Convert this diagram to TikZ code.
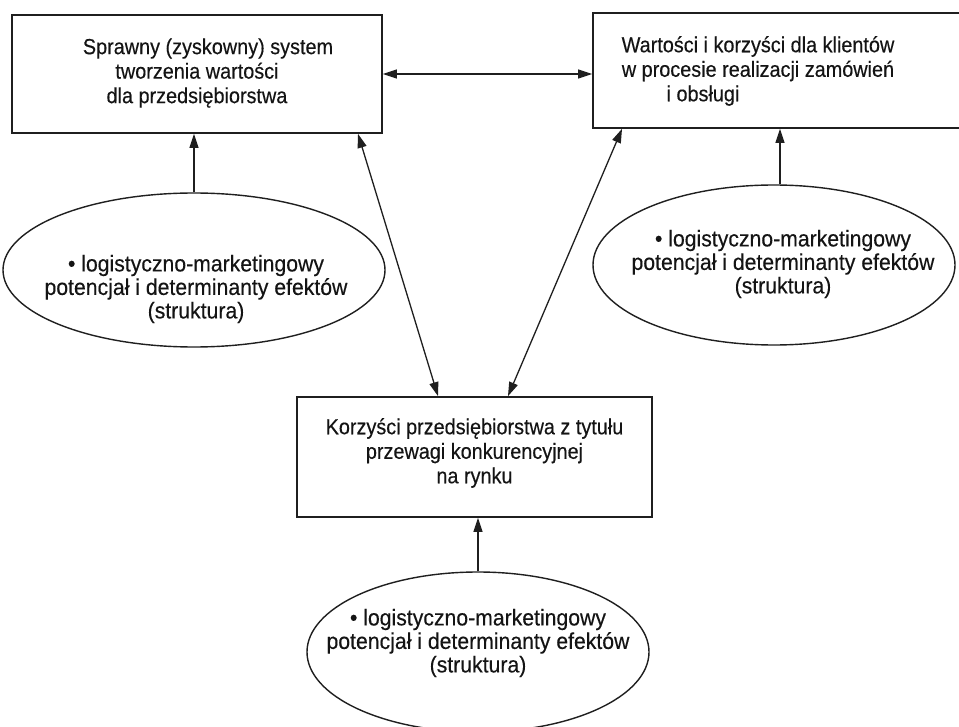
\documentclass[tikz,border=0pt]{standalone}
\usepackage{fontspec}
\setmainfont{Liberation Sans}
\newfontfamily\boxfont[FakeStretch=0.91,FakeBold=0.3]{Liberation Sans}
\newfontfamily\ovalfont[FakeStretch=0.93,FakeBold=0.3]{Liberation Sans}
\usetikzlibrary{arrows.meta,shapes.geometric}
\begin{document}
\begin{tikzpicture}[x=1pt,y=-1pt,
  ink/.style={draw=black!88},
  frame/.style={ink, line width=1.7pt, rectangle, inner sep=0pt},
  oval/.style={ink, line width=1.4pt, ellipse, inner sep=0pt},
  boxtext/.style={align=center, inner sep=0pt, text=black!92,
    font=\boxfont\fontsize{21.8}{24.5}\selectfont},
  ovaltext/.style={align=center, inner sep=0pt, text=black!92,
    font=\ovalfont\fontsize{22.8}{23.5}\selectfont},
  tip/.tip={Triangle[length=14pt,width=9pt]},
  link/.style={ink, line width=1.3pt, -tip},
  twoway/.style={ink, line width=1.3pt, tip-tip}
]
\useasboundingbox[fill=white] (0,0) rectangle (959,727);

% boxes
\node[frame, minimum width=370pt, minimum height=118pt] (A) at (197,74) {};
\node[frame, minimum width=377pt, minimum height=115pt] (B) at (781.5,70.5) {};
\node[frame, minimum width=355pt, minimum height=120pt] (C) at (474.5,457) {};

\node[boxtext] (Atxt) at (197,73)
  {\hspace*{22pt}Sprawny (zyskowny) system\\tworzenia wartości\\dla przedsiębiorstwa};
\node[boxtext] (Btxt) at (758,71)
  {Wartości i korzyści dla klientów\\w procesie realizacji zamówień\\\hspace*{-110pt}i obsługi};
\node[boxtext] (Ctxt) at (474.5,453)
  {Korzyści przedsiębiorstwa z tytułu\\przewagi konkurencyjnej\\na rynku};

% ovals
\node[oval, minimum width=382pt, minimum height=154pt] (L) at (194,270) {};
\node[oval, minimum width=362pt, minimum height=160pt] (R) at (774,265) {};
\node[oval, minimum width=342pt, minimum height=160pt] (E) at (478,652) {};

\node[ovaltext] (Ltxt) at (196,289)
  {• logistyczno-marketingowy\\potencjał i determinanty efektów\\(struktura)};
\node[ovaltext] (Rtxt) at (783,264)
  {• logistyczno-marketingowy\\potencjał i determinanty efektów\\(struktura)};
\node[ovaltext] (Etxt) at (478,643)
  {• logistyczno-marketingowy\\potencjał i determinanty efektów\\(struktura)};

% connectors
\draw[link] (L.north) -- (L.north |- A.south);
\draw[link] ([xshift=6pt]R.north) -- ([xshift=6pt]R.north |- B.south);
\draw[link] (E.north) -- (E.north |- C.south);
\draw[twoway] (A.east) -- (B.west |- A.east);
\draw[twoway] ([xshift=161pt]A.south) -- ([xshift=-36.5pt]C.north);
\draw[twoway] ([xshift=-159.5pt]B.south) -- ([xshift=33.5pt]C.north);
\end{tikzpicture}
\end{document}
